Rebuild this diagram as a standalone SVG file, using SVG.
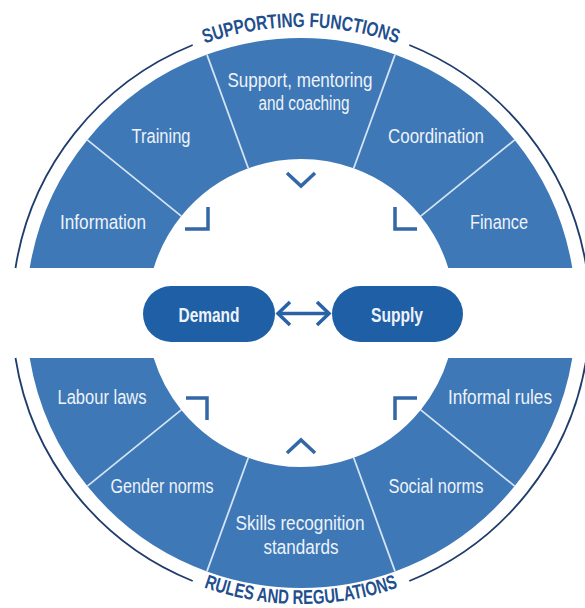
<svg xmlns="http://www.w3.org/2000/svg" width="585" height="608" viewBox="0 0 585 608">
<style>
.seg{fill:#3e78b6}
.div{stroke:#d3e3f4;stroke-width:1.8;fill:none}
.lbl{font-family:"Liberation Sans Narrow","Liberation Sans",Arial,sans-serif;font-size:20px;fill:#eef3fa;text-anchor:middle}
.pill{fill:#1f5fa6}
.pt{font-family:"Liberation Sans Narrow","Liberation Sans",Arial,sans-serif;font-size:20px;font-weight:bold;fill:#eef3fa;text-anchor:middle}
.ring{stroke:#1f3d6c;stroke-width:1.8;fill:none}
.title{font-family:"Liberation Sans Narrow","Liberation Sans",Arial,sans-serif;font-size:20px;font-weight:bold;fill:#1f4f8f}
.mark{stroke:#3467a7;stroke-width:3.5;fill:none}
.conn{stroke:#2a62a8;stroke-width:3.5;fill:none;stroke-linejoin:miter}
</style>
<defs>
<path id="topArc" d="M158,65.3 A286,286 0 0 1 444,65.3"/>
<path id="botArc" d="M155.5,565.1 A291,291 0 0 0 446.5,565.1"/>
</defs>
<rect width="585" height="608" fill="#ffffff"/>

<g id="outer-ring">
<path class="ring" d="M15.5,268 A289,289 0 0 1 192.7,45"/>
<path class="ring" d="M409.3,45 A289,289 0 0 1 586.5,268"/>
<path class="ring" d="M15.5,358 A289,289 0 0 0 192.7,581"/>
<path class="ring" d="M409.3,581 A289,289 0 0 0 586.5,358"/>
<text class="title"><textPath href="#topArc" startOffset="50%" text-anchor="middle" textLength="196" lengthAdjust="spacingAndGlyphs">SUPPORTING FUNCTIONS</textPath></text>
<text class="title"><textPath href="#botArc" startOffset="50%" text-anchor="middle" textLength="198" lengthAdjust="spacingAndGlyphs">RULES AND REGULATIONS</textPath></text>
</g>

<g id="information"><path class="seg" d="M29.7,268 A275,275 0 0 1 87.3,139.9 L181.3,216.1 A154,154 0 0 0 153.7,268 Z"/><text class="lbl" x="103" y="229" textLength="86" lengthAdjust="spacingAndGlyphs">Information</text></g>
<g id="training"><path class="seg" d="M87.3,139.9 A275,275 0 0 1 206.95,54.6 L248.3,168.3 A154,154 0 0 0 181.3,216.1 Z"/><text class="lbl" x="161" y="143" textLength="59" lengthAdjust="spacingAndGlyphs">Training</text></g>
<g id="support"><path class="seg" d="M206.95,54.6 A275,275 0 0 1 395.05,54.6 L353.7,168.3 A154,154 0 0 0 248.3,168.3 Z"/><text class="lbl" x="300" y="87" textLength="145" lengthAdjust="spacingAndGlyphs">Support, mentoring</text><text class="lbl" x="304" y="110" textLength="91" lengthAdjust="spacingAndGlyphs">and coaching</text></g>
<g id="coordination"><path class="seg" d="M395.05,54.6 A275,275 0 0 1 514.7,139.9 L420.7,216.1 A154,154 0 0 0 353.7,168.3 Z"/><text class="lbl" x="436" y="143" textLength="96" lengthAdjust="spacingAndGlyphs">Coordination</text></g>
<g id="finance"><path class="seg" d="M514.7,139.9 A275,275 0 0 1 572.3,268 L448.3,268 A154,154 0 0 0 420.7,216.1 Z"/><text class="lbl" x="499" y="229" textLength="58" lengthAdjust="spacingAndGlyphs">Finance</text></g>

<g id="labour-laws"><path class="seg" d="M29.7,358 A275,275 0 0 0 87.3,486.1 L181.3,409.9 A154,154 0 0 1 153.7,358 Z"/><text class="lbl" x="102" y="404" textLength="89" lengthAdjust="spacingAndGlyphs">Labour laws</text></g>
<g id="gender-norms"><path class="seg" d="M87.3,486.1 A275,275 0 0 0 206.95,571.4 L248.3,457.7 A154,154 0 0 1 181.3,409.9 Z"/><text class="lbl" x="162" y="493" textLength="103" lengthAdjust="spacingAndGlyphs">Gender norms</text></g>
<g id="skills"><path class="seg" d="M206.95,571.4 A275,275 0 0 0 395.05,571.4 L353.7,457.7 A154,154 0 0 1 248.3,457.7 Z"/><text class="lbl" x="300" y="530" textLength="129" lengthAdjust="spacingAndGlyphs">Skills recognition</text><text class="lbl" x="301" y="554" textLength="75" lengthAdjust="spacingAndGlyphs">standards</text></g>
<g id="social-norms"><path class="seg" d="M395.05,571.4 A275,275 0 0 0 514.7,486.1 L420.7,409.9 A154,154 0 0 1 353.7,457.7 Z"/><text class="lbl" x="436" y="493" textLength="95" lengthAdjust="spacingAndGlyphs">Social norms</text></g>
<g id="informal-rules"><path class="seg" d="M514.7,486.1 A275,275 0 0 0 572.3,358 L448.3,358 A154,154 0 0 1 420.7,409.9 Z"/><text class="lbl" x="500" y="404" textLength="104" lengthAdjust="spacingAndGlyphs">Informal rules</text></g>

<g id="dividers">
<path class="div" d="M87.3,139.9 L181.3,216.1 M206.95,54.6 L248.3,168.3 M395.05,54.6 L353.7,168.3 M514.7,139.9 L420.7,216.1"/>
<path class="div" d="M87.3,486.1 L181.3,409.9 M206.95,571.4 L248.3,457.7 M395.05,571.4 L353.7,457.7 M514.7,486.1 L420.7,409.9"/>
</g>

<g id="marks">
<path class="mark" d="M185,229 H208 V207"/>
<path class="mark" d="M395,207 V229 H417"/>
<path class="mark" d="M186,398 H207 V420"/>
<path class="mark" d="M395,420 V398 H417"/>
<path class="mark" d="M287,173 L301,186 L315,173" stroke-width="3"/>
<path class="mark" d="M287,453 L301,440 L315,453" stroke-width="3"/>
</g>

<g id="demand"><rect class="pill" x="143" y="286" width="132" height="56" rx="28"/><text class="pt" x="209" y="322" textLength="61" lengthAdjust="spacingAndGlyphs">Demand</text></g>
<g id="supply"><rect class="pill" x="332" y="286" width="131" height="56" rx="28"/><text class="pt" x="397" y="322" textLength="52" lengthAdjust="spacingAndGlyphs">Supply</text></g>

<g id="connectors">
<path class="conn" d="M279,313.5 H328"/>
<path class="conn" d="M290,302 L278,313.5 L290,325"/>
<path class="conn" d="M317,302 L329,313.5 L317,325"/>
</g>
</svg>
